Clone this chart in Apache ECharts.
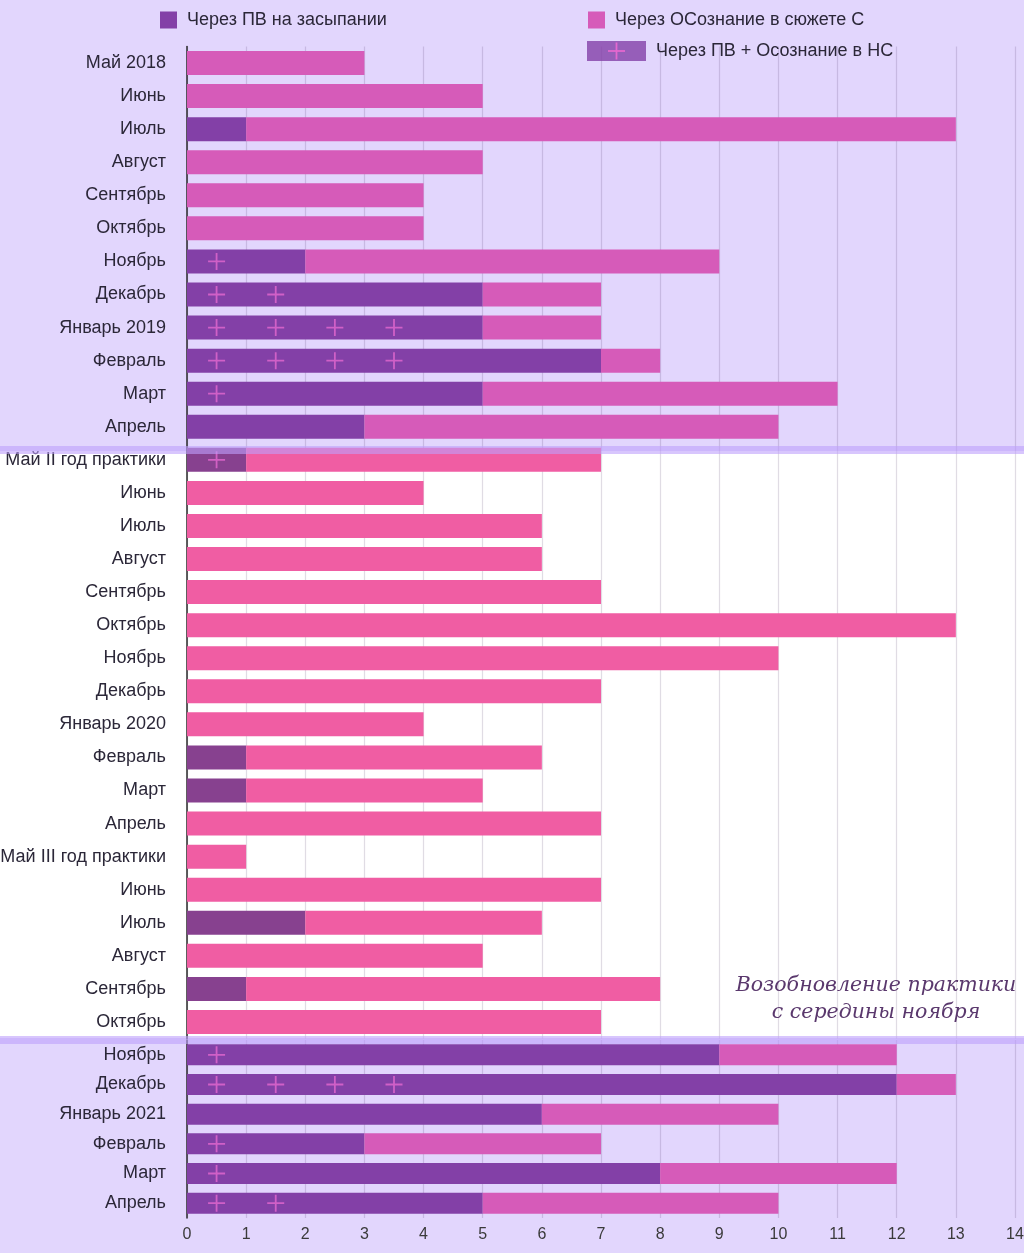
<!DOCTYPE html>
<html>
<head>
<meta charset="utf-8">
<script src="https://cdn.jsdelivr.net/npm/echarts@6/dist/echarts.min.js"></script>
<style>html,body{margin:0;padding:0;background:#fff}#c{width:1024px;height:1253px}</style>
</head>
<body>
<div id="c"></div>
<script>
// ---- data ----
const categories = [
  'Май 2018','Июнь','Июль','Август','Сентябрь','Октябрь','Ноябрь','Декабрь','Январь 2019','Февраль','Март','Апрель',
  'Май II год практики','Июнь','Июль','Август','Сентябрь','Октябрь','Ноябрь','Декабрь','Январь 2020','Февраль','Март','Апрель',
  'Май III год практики','Июнь','Июль','Август','Сентябрь','Октябрь',
  'Ноябрь','Декабрь','Январь 2021','Февраль','Март','Апрель'
];
// Через ПВ на засыпании
const pvValues = [0,0,1,0,0,0,2,5,5,7,5,3, 1,0,0,0,0,0,0,0,0,1,1,0, 0,0,2,0,1,0, 9,12,6,3,8,5];
// Через ОСознание в сюжете С
const osValues = [3,5,12,5,4,4,7,2,2,1,6,7, 6,4,6,6,7,13,10,7,4,5,4,7, 1,7,4,5,7,7, 3,1,4,4,4,5];
// Через ПВ + Осознание в НС (number of "+" marks)
const plusCounts = [0,0,0,0,0,0,1,2,4,4,1,0, 1,0,0,0,0,0,0,0,0,0,0,0, 0,0,0,0,0,0, 1,4,0,1,1,2];
const xTicks = [0,1,2,3,4,5,6,7,8,9,10,11,12,13,14];
const splitAt = 30; // first row of the bottom block
const midStart = 12, midEnd = 29; // "white" period rows

const names = ['Через ПВ на засыпании','Через ОСознание в сюжете С','Через ПВ + Осознание в НС'];
const C = {
  purple:'#8340A7', pink:'#D65BB9',
  midPurple:'#87418F', midPink:'#F05DA3',
  plus:'#E468CF', lav:'#E2D6FD', band:'rgba(190,160,252,0.75)'
};

function part(from, to) {
  const cats = categories.slice(from, to);
  const pv = [], os = [], pl = [];
  for (let i = from; i < to; i++) {
    const mid = i >= midStart && i <= midEnd;
    pv.push({value: pvValues[i], itemStyle: {color: mid ? C.midPurple : C.purple}});
    os.push({value: osValues[i], itemStyle: {color: mid ? C.midPink : C.pink}});
    for (let k = 0; k < plusCounts[i]; k++) pl.push([k + 0.5, i - from]);
  }
  return {cats, pv, os, pl};
}
const A = part(0, splitAt), B = part(splitAt, categories.length);

const plusPath = 'path://M7.6,0H9.4V17H7.6Z M0,7.6H17V9.4H0Z';
const font = 'Liberation Sans, Arial, sans-serif';

function yAx(gi, cats) {
  return {
    type:'category', gridIndex: gi, data: cats, inverse: true,
    axisTick:{show:false},
    axisLine:{show:true, lineStyle:{color:'#2a2a2a', width:1.5}},
    axisLabel:{color:'#2b2738', fontSize:18, fontFamily:font, margin:21},
    splitLine:{show:false}
  };
}
function xAx(gi, showLabels) {
  return {
    type:'value', gridIndex: gi, min: xTicks[0], max: xTicks[xTicks.length-1], interval: 1,
    axisLine:{show:false}, axisTick:{show:false},
    axisLabel:{show: showLabels, color:'#3a3a3a', fontSize:16, fontFamily:font, margin:9},
    splitLine:{show:true, lineStyle:{color:'rgba(60,40,90,0.16)', width:1.2}}
  };
}
function seriesFor(gi, d, bw) {
  return [
    {name:names[0], type:'bar', stack:'s'+gi, xAxisIndex:gi, yAxisIndex:gi, barWidth:bw,
     itemStyle:{color:C.purple}, data:d.pv, z:2},
    {name:names[1], type:'bar', stack:'s'+gi, xAxisIndex:gi, yAxisIndex:gi, barWidth:bw,
     itemStyle:{color:C.pink}, data:d.os, z:2},
    {name:names[2], type:'scatter', xAxisIndex:gi, yAxisIndex:gi, symbol:plusPath, symbolSize:17,
     itemStyle:{color:C.plus}, data:d.pl, z:4, silent:true}
  ];
}

const legendText = {fontSize:18, color:'#2b2738', fontFamily:font};
const chart = echarts.init(document.getElementById('c'), null, {renderer:'canvas'});
chart.setOption({
  backgroundColor:'#ffffff',
  animation:false,
  textStyle:{fontFamily:font},
  graphic:[
    {type:'rect', shape:{x:0,y:0,width:1024,height:451}, style:{fill:C.lav}, z:-10, silent:true},
    {type:'rect', shape:{x:0,y:1038,width:1024,height:215}, style:{fill:C.lav}, z:-10, silent:true},
    {type:'rect', shape:{x:0,y:446,width:1024,height:8}, style:{fill:C.band, opacity:0.8}, z:100, silent:true},
    {type:'rect', shape:{x:0,y:1036,width:1024,height:8}, style:{fill:C.band, opacity:0.8}, z:100, silent:true},
    {type:'rect', shape:{x:608,y:50.1,width:17,height:1.8}, style:{fill:C.plus}, z:200, silent:true},
    {type:'rect', shape:{x:615.6,y:42.5,width:1.8,height:17}, style:{fill:C.plus}, z:200, silent:true},
    {type:'text', x:876, y:999, z:200, silent:true,
     style:{text:'Возобновление практики\nс середины ноября', fill:'#5A386D', font:'italic 20.5px "DejaVu Serif", serif',
            textAlign:'center', textVerticalAlign:'middle', lineHeight:27}}
  ],
  legend:[
    {data:[names[0]], left:160, top:11, padding:0, itemWidth:17, itemHeight:17, icon:'rect',
     formatter:' {name}', textStyle:legendText, selectedMode:false},
    {data:[names[1]], left:588, top:11, padding:0, itemWidth:17, itemHeight:17, icon:'rect',
     formatter:' {name}', textStyle:legendText, selectedMode:false},
    {data:[{name:names[2], icon:'rect', itemStyle:{color:C.purple}}], left:587, top:41, padding:0, itemWidth:59, itemHeight:20,
     formatter:' {name}', textStyle:legendText, selectedMode:false}
  ],
  grid:[
    {left:187, right:9, top:46.5, height:992, outerBoundsMode:'none', containLabel:false},
    {left:187, right:9, top:1040, height:178, outerBoundsMode:'none', containLabel:false}
  ],
  xAxis:[xAx(0,false), xAx(1,true)],
  yAxis:[yAx(0, A.cats), yAx(1, B.cats)],
  series:[].concat(seriesFor(0, A, 24), seriesFor(1, B, 21))
});
</script>
</body>
</html>
